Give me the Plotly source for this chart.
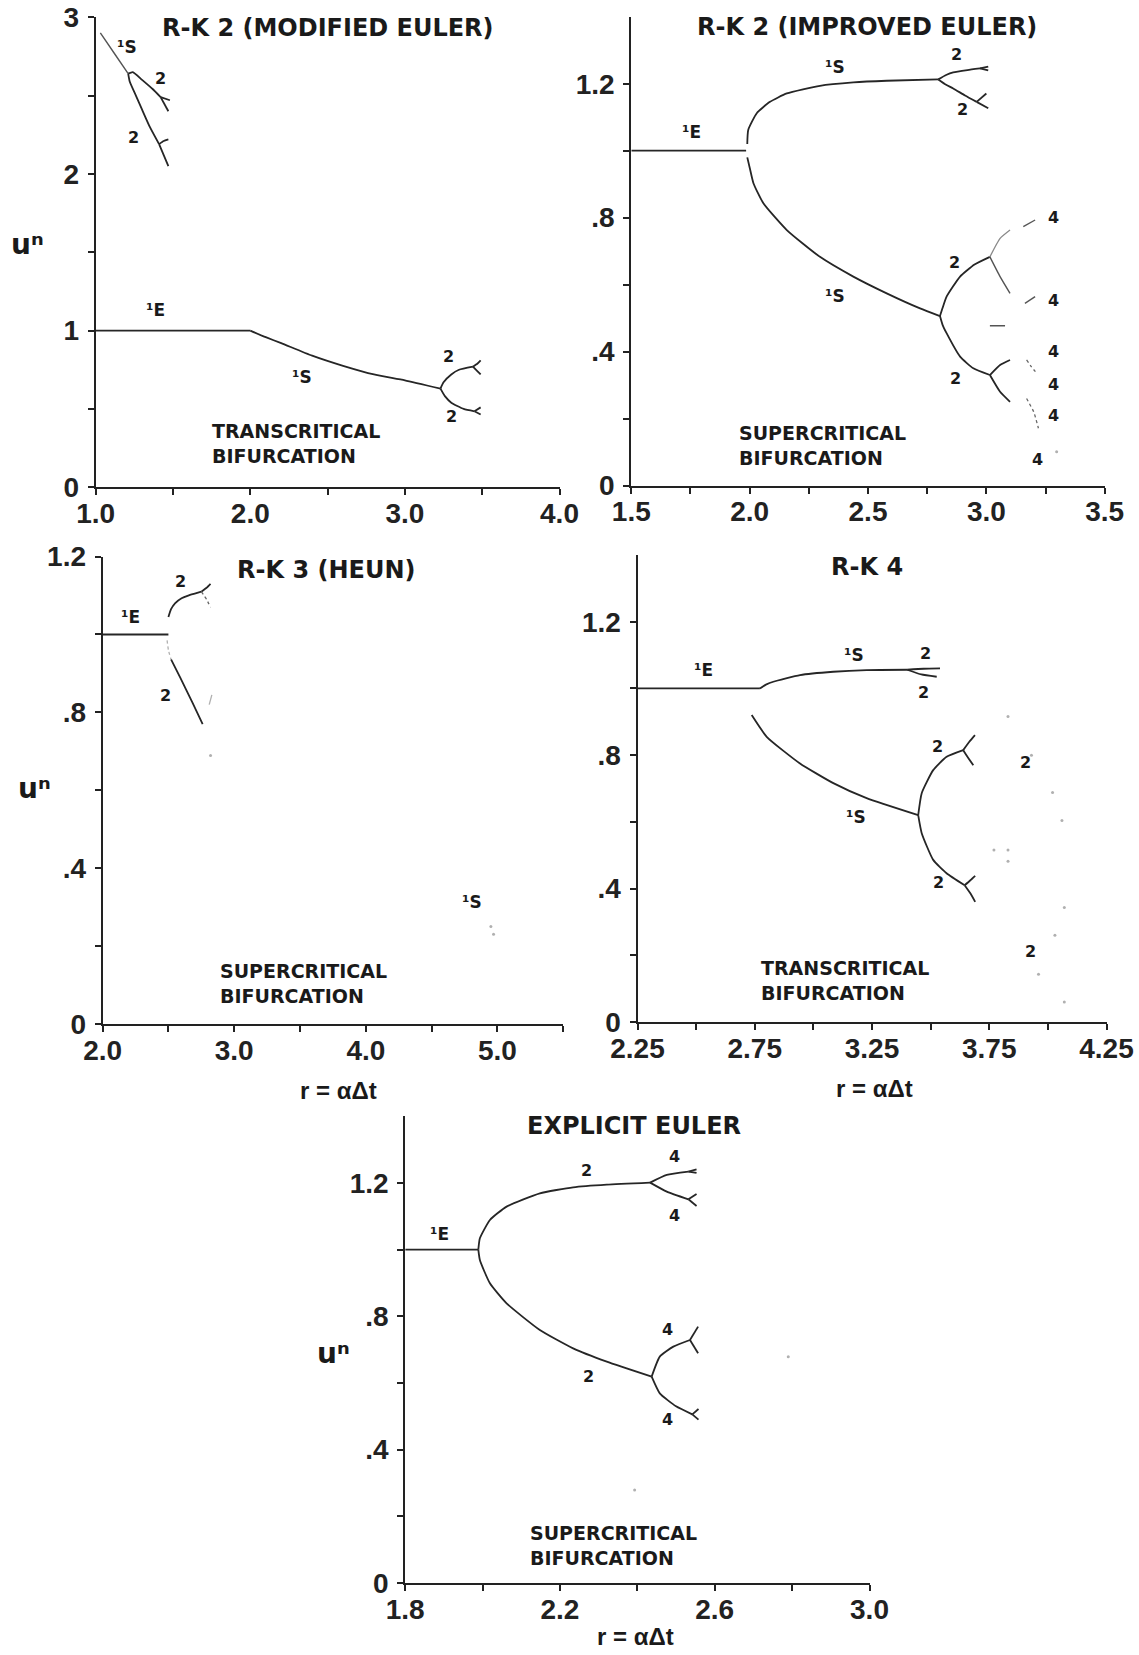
import plotly.graph_objects as go

W, H = 1139, 1655
INK = "#262626"
FAINT = "#b0b0b0"
FONT = "Liberation Sans, Arial, Helvetica, sans-serif"
WFONT = "DejaVu Sans, Verdana, sans-serif"

# ---------------- Panel 1: R-K 2 (MODIFIED EULER) ----------------
p1_e_x = [1.0, 2.0]
p1_e_y = [1.0, 1.0]
p1_s_x = [2.0, 2.1, 2.2, 2.4, 2.6, 2.8, 3.0, 3.23]
p1_s_y = [1.0, 0.958, 0.92, 0.84, 0.775, 0.72, 0.683, 0.63]
p1_2u_x = [3.23, 3.25, 3.3, 3.35, 3.44]
p1_2u_y = [0.63, 0.67, 0.72, 0.75, 0.77]
p1_4ua_x = [3.44, 3.47, 3.49]
p1_4ua_y = [0.77, 0.79, 0.81]
p1_4ub_x = [3.44, 3.47, 3.49]
p1_4ub_y = [0.77, 0.74, 0.72]
p1_2l_x = [3.23, 3.26, 3.3, 3.38, 3.45]
p1_2l_y = [0.63, 0.58, 0.54, 0.50, 0.485]
p1_4la_x = [3.45, 3.49]
p1_4la_y = [0.485, 0.51]
p1_4lb_x = [3.45, 3.49]
p1_4lb_y = [0.485, 0.465]
p1_s2_x = [1.03, 1.12, 1.21]
p1_s2_y = [2.90, 2.77, 2.64]
p1_b2u_x = [1.21, 1.24, 1.3, 1.37, 1.42]
p1_b2u_y = [2.64, 2.65, 2.60, 2.54, 2.49]
p1_b4ua_x = [1.42, 1.48]
p1_b4ua_y = [2.49, 2.47]
p1_b4ub_x = [1.42, 1.47]
p1_b4ub_y = [2.49, 2.40]
p1_b2l_x = [1.21, 1.22, 1.26, 1.30, 1.35, 1.41]
p1_b2l_y = [2.64, 2.59, 2.50, 2.41, 2.30, 2.19]
p1_b4la_x = [1.41, 1.44, 1.47]
p1_b4la_y = [2.19, 2.21, 2.22]
p1_b4lb_x = [1.41, 1.44, 1.47]
p1_b4lb_y = [2.19, 2.12, 2.05]

# ---------------- Panel 2: R-K 2 (IMPROVED EULER) ----------------
p2_e_x = [1.5, 1.985]
p2_e_y = [1.0, 1.0]
p2_su_x = [1.99, 1.994, 2.03, 2.086, 2.157, 2.297, 2.438, 2.579, 2.797]
p2_su_y = [1.02, 1.062, 1.112, 1.146, 1.171, 1.194, 1.204, 1.209, 1.213]
p2_2uu_x = [2.797, 2.83, 2.86, 2.92, 2.973]
p2_2uu_y = [1.213, 1.226, 1.234, 1.241, 1.246]
p2_4uua_x = [2.973, 3.008]
p2_4uua_y = [1.246, 1.251]
p2_4uub_x = [2.973, 3.008]
p2_4uub_y = [1.246, 1.24]
p2_2ul_x = [2.797, 2.83, 2.86, 2.91, 2.959]
p2_2ul_y = [1.213, 1.197, 1.186, 1.165, 1.146]
p2_4ula_x = [2.959, 3.0]
p2_4ula_y = [1.146, 1.171]
p2_4ulb_x = [2.959, 3.008]
p2_4ulb_y = [1.146, 1.127]
p2_sl_x = [1.99, 2.0, 2.016, 2.058, 2.157, 2.297, 2.438, 2.579, 2.72, 2.804]
p2_sl_y = [0.98, 0.95, 0.903, 0.843, 0.763, 0.683, 0.624, 0.574, 0.529, 0.506]
p2_2lu_x = [2.804, 2.815, 2.832, 2.889, 2.95, 3.015]
p2_2lu_y = [0.506, 0.53, 0.564, 0.624, 0.66, 0.683]
p2_2ll_x = [2.804, 2.815, 2.832, 2.889, 2.945, 3.015]
p2_2ll_y = [0.506, 0.48, 0.455, 0.385, 0.35, 0.33]
p2_4a_x = [3.015, 3.058, 3.1]
p2_4a_y = [0.683, 0.738, 0.763]
p2_4b_x = [3.015, 3.058, 3.1]
p2_4b_y = [0.683, 0.624, 0.574]
p2_4c_x = [3.015, 3.058, 3.1]
p2_4c_y = [0.33, 0.36, 0.375]
p2_4d_x = [3.015, 3.058, 3.1]
p2_4d_y = [0.33, 0.28, 0.25]
p2_f1_x = [3.156, 3.206]
p2_f1_y = [0.773, 0.793]
p2_f2_x = [3.163, 3.206]
p2_f2_y = [0.544, 0.564]
p2_f3_x = [3.015, 3.079]
p2_f3_y = [0.477, 0.477]
p2_f4_x = [3.17, 3.19, 3.213]
p2_f4_y = [0.375, 0.355, 0.335]
p2_f5_x = [3.17, 3.2, 3.22]
p2_f5_y = [0.26, 0.22, 0.171]
p2_dot_x = [3.297]
p2_dot_y = [0.101]

# ---------------- Panel 3: R-K 3 (HEUN) ----------------
p3_e_x = [2.0, 2.5]
p3_e_y = [1.0, 1.0]
p3_2u_x = [2.5, 2.52, 2.55, 2.6, 2.65, 2.7, 2.75]
p3_2u_y = [1.045, 1.065, 1.08, 1.093, 1.1, 1.105, 1.11]
p3_4a_x = [2.75, 2.79, 2.82]
p3_4a_y = [1.11, 1.12, 1.13]
p3_4b_x = [2.75, 2.79, 2.82]
p3_4b_y = [1.11, 1.09, 1.07]
p3_2lf_x = [2.49, 2.5, 2.52]
p3_2lf_y = [0.985, 0.96, 0.936]
p3_2l_x = [2.52, 2.59, 2.68, 2.76]
p3_2l_y = [0.936, 0.889, 0.827, 0.77]
p3_f1_x = [2.81, 2.83]
p3_f1_y = [0.82, 0.845]
p3_dot_x = [2.82, 4.95, 4.97]
p3_dot_y = [0.689, 0.25, 0.23]

# ---------------- Panel 4: R-K 4 ----------------
p4_e_x = [2.25, 2.772]
p4_e_y = [1.0, 1.0]
p4_su_x = [2.772, 2.8, 2.829, 2.943, 3.085, 3.227, 3.4]
p4_su_y = [1.0, 1.012, 1.02, 1.04, 1.05, 1.055, 1.056]
p4_2ua_x = [3.4, 3.47, 3.54]
p4_2ua_y = [1.056, 1.059, 1.06]
p4_2ub_x = [3.4, 3.46, 3.526]
p4_2ub_y = [1.056, 1.042, 1.035]
p4_sl_x = [2.737, 2.801, 2.943, 3.085, 3.227, 3.447]
p4_sl_y = [0.92, 0.855, 0.775, 0.716, 0.671, 0.62]
p4_2lu_x = [3.447, 3.462, 3.511, 3.568, 3.639]
p4_2lu_y = [0.62, 0.686, 0.755, 0.795, 0.815]
p4_4a_x = [3.639, 3.665, 3.689]
p4_4a_y = [0.815, 0.84, 0.86]
p4_4b_x = [3.639, 3.662, 3.682]
p4_4b_y = [0.815, 0.79, 0.77]
p4_2ll_x = [3.447, 3.462, 3.511, 3.568, 3.645]
p4_2ll_y = [0.62, 0.566, 0.486, 0.446, 0.41]
p4_4c_x = [3.645, 3.67, 3.69]
p4_4c_y = [0.41, 0.425, 0.438]
p4_4d_x = [3.645, 3.67, 3.69]
p4_4d_y = [0.41, 0.385, 0.36]
p4_dot_x = [3.93, 3.96, 3.83, 4.02, 4.06, 3.77, 3.83, 3.83, 4.07, 4.03, 4.07]
p4_dot_y = [0.80, 0.143, 0.916, 0.688, 0.604, 0.516, 0.516, 0.482, 0.343, 0.26, 0.06]

# ---------------- Panel 5: EXPLICIT EULER ----------------
p5_e_x = [1.8, 1.989]
p5_e_y = [1.0, 1.0]
p5_2u_x = [1.989, 1.993, 2.019, 2.062, 2.148, 2.234, 2.321, 2.433]
p5_2u_y = [1.0, 1.034, 1.089, 1.129, 1.169, 1.187, 1.195, 1.201]
p5_4uu_x = [2.433, 2.476, 2.532]
p5_4uu_y = [1.201, 1.224, 1.234]
p5_8a_x = [2.532, 2.553]
p5_8a_y = [1.234, 1.241]
p5_8b_x = [2.532, 2.553]
p5_8b_y = [1.234, 1.23]
p5_4ul_x = [2.433, 2.476, 2.532]
p5_4ul_y = [1.201, 1.174, 1.151]
p5_8c_x = [2.532, 2.553]
p5_8c_y = [1.151, 1.167]
p5_8d_x = [2.532, 2.553]
p5_8d_y = [1.151, 1.131]
p5_2l_x = [1.989, 1.993, 2.019, 2.062, 2.148, 2.234, 2.321, 2.437]
p5_2l_y = [1.0, 0.969, 0.899, 0.839, 0.759, 0.704, 0.664, 0.619]
p5_4lu_x = [2.437, 2.458, 2.493, 2.536]
p5_4lu_y = [0.619, 0.679, 0.709, 0.729]
p5_8e_x = [2.536, 2.557]
p5_8e_y = [0.729, 0.769]
p5_8f_x = [2.536, 2.557]
p5_8f_y = [0.729, 0.689]
p5_4ll_x = [2.437, 2.458, 2.5, 2.542]
p5_4ll_y = [0.619, 0.569, 0.53, 0.506]
p5_8g_x = [2.542, 2.558]
p5_8g_y = [0.506, 0.522]
p5_8h_x = [2.542, 2.558]
p5_8h_y = [0.506, 0.49]
p5_dot_x = [2.79, 2.393]
p5_dot_y = [0.679, 0.279]

# ---------------- tick definitions ----------------
p1_xt = [1.0, 2.0, 3.0, 4.0]
p1_xl = ["1.0", "2.0", "3.0", "4.0"]
p1_xm = [1.0, 1.5, 2.0, 2.5, 3.0, 3.5, 4.0]
p1_yt = [0, 1, 2, 3]
p1_yl = ["0", "1", "2", "3"]
p1_ym = [0, 0.5, 1, 1.5, 2, 2.5, 3]
p2_xt = [1.5, 2.0, 2.5, 3.0, 3.5]
p2_xl = ["1.5", "2.0", "2.5", "3.0", "3.5"]
p2_xm = [1.5, 1.75, 2.0, 2.25, 2.5, 2.75, 3.0, 3.25, 3.5]
u_yt = [0, 0.4, 0.8, 1.2]
u_yl = ["0", ".4", ".8", "1.2"]
u_ym = [0, 0.2, 0.4, 0.6, 0.8, 1.0, 1.2]
p3_xt = [2.0, 3.0, 4.0, 5.0]
p3_xl = ["2.0", "3.0", "4.0", "5.0"]
p3_xm = [2.0, 2.5, 3.0, 3.5, 4.0, 4.5, 5.0, 5.5]
p4_xt = [2.25, 2.75, 3.25, 3.75, 4.25]
p4_xl = ["2.25", "2.75", "3.25", "3.75", "4.25"]
p4_xm = [2.25, 2.5, 2.75, 3.0, 3.25, 3.5, 3.75, 4.0, 4.25]
p5_xt = [1.8, 2.2, 2.6, 3.0]
p5_xl = ["1.8", "2.2", "2.6", "3.0"]
p5_xm = [1.8, 2.0, 2.2, 2.4, 2.6, 2.8, 3.0]

fig = go.Figure()


def line(xs, ys, p, color=INK, width=1.8, dash="solid"):
    fig.add_trace(go.Scatter(
        x=xs, y=ys, mode="lines", xaxis="x%d" % p, yaxis="y%d" % p,
        line=dict(color=color, width=width, dash=dash, shape="spline", smoothing=0.5),
        hoverinfo="skip", showlegend=False))


def dots(xs, ys, p):
    fig.add_trace(go.Scatter(
        x=xs, y=ys, mode="markers", xaxis="x%d" % p, yaxis="y%d" % p,
        marker=dict(color=FAINT, size=3), hoverinfo="skip", showlegend=False))


# panel 1
for xs, ys in [(p1_e_x, p1_e_y), (p1_s_x, p1_s_y), (p1_2u_x, p1_2u_y), (p1_4ua_x, p1_4ua_y),
               (p1_4ub_x, p1_4ub_y), (p1_2l_x, p1_2l_y), (p1_4la_x, p1_4la_y), (p1_4lb_x, p1_4lb_y),
               (p1_b2u_x, p1_b2u_y), (p1_b4ua_x, p1_b4ua_y), (p1_b4ub_x, p1_b4ub_y),
               (p1_b2l_x, p1_b2l_y), (p1_b4la_x, p1_b4la_y), (p1_b4lb_x, p1_b4lb_y)]:
    line(xs, ys, 1)
line(p1_s2_x, p1_s2_y, 1, color="#555555", width=1.4)

# panel 2
for xs, ys in [(p2_e_x, p2_e_y), (p2_su_x, p2_su_y), (p2_2uu_x, p2_2uu_y), (p2_4uua_x, p2_4uua_y),
               (p2_4uub_x, p2_4uub_y), (p2_2ul_x, p2_2ul_y), (p2_4ula_x, p2_4ula_y), (p2_4ulb_x, p2_4ulb_y),
               (p2_sl_x, p2_sl_y), (p2_2lu_x, p2_2lu_y), (p2_2ll_x, p2_2ll_y),
               (p2_4c_x, p2_4c_y), (p2_4d_x, p2_4d_y)]:
    line(xs, ys, 2)
line(p2_4a_x, p2_4a_y, 2, color="#8a8a8a", width=1.3)
line(p2_4b_x, p2_4b_y, 2, color="#555555", width=1.4)
for xs, ys in [(p2_f1_x, p2_f1_y), (p2_f2_x, p2_f2_y), (p2_f3_x, p2_f3_y)]:
    line(xs, ys, 2, color="#555555", width=1.4)
line(p2_f4_x, p2_f4_y, 2, color="#666666", width=1.3, dash="dot")
line(p2_f5_x, p2_f5_y, 2, color="#666666", width=1.3, dash="dot")
dots(p2_dot_x, p2_dot_y, 2)

# panel 3
for xs, ys in [(p3_e_x, p3_e_y), (p3_2u_x, p3_2u_y), (p3_4a_x, p3_4a_y), (p3_2l_x, p3_2l_y)]:
    line(xs, ys, 3)
line(p3_4b_x, p3_4b_y, 3, color="#666666", width=1.3, dash="dot")
line(p3_2lf_x, p3_2lf_y, 3, color=FAINT, width=1.3, dash="dot")
line(p3_f1_x, p3_f1_y, 3, color=FAINT, width=1.3)
dots(p3_dot_x, p3_dot_y, 3)

# panel 4
for xs, ys in [(p4_e_x, p4_e_y), (p4_su_x, p4_su_y), (p4_2ua_x, p4_2ua_y), (p4_2ub_x, p4_2ub_y),
               (p4_sl_x, p4_sl_y), (p4_2lu_x, p4_2lu_y), (p4_4a_x, p4_4a_y), (p4_4b_x, p4_4b_y),
               (p4_2ll_x, p4_2ll_y), (p4_4c_x, p4_4c_y), (p4_4d_x, p4_4d_y)]:
    line(xs, ys, 4)
dots(p4_dot_x, p4_dot_y, 4)

# panel 5
for xs, ys in [(p5_e_x, p5_e_y), (p5_2u_x, p5_2u_y), (p5_4uu_x, p5_4uu_y), (p5_8a_x, p5_8a_y),
               (p5_8b_x, p5_8b_y), (p5_4ul_x, p5_4ul_y), (p5_8c_x, p5_8c_y), (p5_8d_x, p5_8d_y),
               (p5_2l_x, p5_2l_y), (p5_4lu_x, p5_4lu_y), (p5_8e_x, p5_8e_y), (p5_8f_x, p5_8f_y),
               (p5_4ll_x, p5_4ll_y), (p5_8g_x, p5_8g_y), (p5_8h_x, p5_8h_y)]:
    line(xs, ys, 5)
dots(p5_dot_x, p5_dot_y, 5)

# ---------------- axes ----------------
panels = [
    # (px left, px right, px bottom, px top, xrange, yrange, x ticks, x labels, x minor, y ticks, y labels, y minor)
    (95.7, 559.5, 487.3, 17.2, [1.0, 4.0], [0, 3], p1_xt, p1_xl, p1_xm, p1_yt, p1_yl, p1_ym),
    (631.3, 1104.7, 485.5, 16.8, [1.5, 3.5], [0, 1.4], p2_xt, p2_xl, p2_xm, u_yt, u_yl, u_ym),
    (102.6, 563.3, 1023.9, 556.6, [2.0, 5.5], [0, 1.2], p3_xt, p3_xl, p3_xm, u_yt, u_yl, u_ym),
    (637.5, 1106.5, 1022.0, 555.0, [2.25, 4.25], [0, 1.4], p4_xt, p4_xl, p4_xm, u_yt, u_yl, u_ym),
    (405.2, 869.5, 1583.0, 1116.3, [1.8, 3.0], [0, 1.4], p5_xt, p5_xl, p5_xm, u_yt, u_yl, u_ym),
]
tickfont = dict(family=FONT, size=28, color="#222222", weight="bold")
layout = {}
for i, (xl, xr, yb, yt, xrg, yrg, xtv, xtt, xmv, ytv, ytt, ymv) in enumerate(panels, start=1):
    common = dict(showline=True, linewidth=2, linecolor="#222222", ticks="outside",
                  ticklen=6, tickwidth=1.5, tickcolor="#222222", showgrid=False,
                  zeroline=False, tickfont=tickfont, fixedrange=True, automargin=False)
    minor = dict(tickmode="array", ticks="outside", ticklen=6, tickwidth=1.5,
                 tickcolor="#222222", showgrid=False)
    layout["xaxis%d" % i] = dict(common, domain=[xl / W, xr / W], range=xrg,
                                 anchor="y%d" % i, tickmode="array", tickvals=xtv, ticktext=xtt,
                                 ticklabelstandoff=-6, minor=dict(minor, tickvals=xmv))
    layout["yaxis%d" % i] = dict(common, domain=[1 - yb / H, 1 - yt / H], range=yrg,
                                 anchor="x%d" % i, tickmode="array", tickvals=ytv, ticktext=ytt,
                                 ticklabelstandoff=3, minor=dict(minor, tickvals=ymv))

# ---------------- annotations ----------------
ann = []


def lab(text, x, y, p, size=17):
    ann.append(dict(text=text, x=x, y=y, xref="x%d" % p, yref="y%d" % p, showarrow=False,
                    xanchor="center", yanchor="middle",
                    font=dict(family=WFONT, size=size, color="#1a1a1a", weight="bold")))


S1 = "¹S"
E1 = "¹E"
# panel 1
lab(S1, 1.20, 2.81, 1); lab("2", 1.42, 2.61, 1, 16); lab("2", 1.245, 2.235, 1, 16)
lab(E1, 1.386, 1.134, 1); lab(S1, 2.336, 0.705, 1)
lab("2", 3.284, 0.837, 1, 16); lab("2", 3.30, 0.455, 1, 16)
# panel 2
lab(S1, 2.361, 1.25, 2); lab("2", 2.875, 1.286, 2, 16); lab("2", 2.899, 1.123, 2, 16)
lab(E1, 1.754, 1.055, 2); lab(S1, 2.361, 0.566, 2)
lab("2", 2.864, 0.667, 2, 16); lab("2", 2.868, 0.319, 2, 16)
for yy in [0.80, 0.552, 0.399, 0.301, 0.208]:
    lab("4", 3.284, yy, 2, 16)
lab("4", 3.218, 0.077, 2, 16)
# panel 3
lab("2", 2.59, 1.135, 3, 16); lab(E1, 2.21, 1.045, 3); lab("2", 2.48, 0.844, 3, 16)
lab(S1, 4.81, 0.314, 3)
# panel 4
lab(S1, 3.175, 1.099, 4); lab("2", 3.479, 1.104, 4, 16); lab("2", 3.471, 0.988, 4, 16)
lab(E1, 2.53, 1.054, 4); lab("2", 3.53, 0.827, 4, 16); lab(S1, 3.18, 0.616, 4)
lab("2", 3.535, 0.419, 4, 16); lab("2", 3.905, 0.777, 4, 16); lab("2", 3.925, 0.21, 4, 16)
# panel 5
lab("2", 2.269, 1.236, 5, 16); lab("4", 2.495, 1.279, 5, 16); lab("4", 2.495, 1.103, 5, 16)
lab(E1, 1.888, 1.047, 5); lab("4", 2.479, 0.76, 5, 16); lab("2", 2.274, 0.62, 5, 16)
lab("4", 2.479, 0.49, 5, 16)

# bifurcation type notes
notes = [("TRANSCRITICAL<br>BIFURCATION", 1.742, 0.277, 1),
         ("SUPERCRITICAL<br>BIFURCATION", 1.945, 0.12, 2),
         ("SUPERCRITICAL<br>BIFURCATION", 2.88, 0.105, 3),
         ("TRANSCRITICAL<br>BIFURCATION", 2.77, 0.124, 4),
         ("SUPERCRITICAL<br>BIFURCATION", 2.118, 0.113, 5)]
for t, x, y, p in notes:
    ann.append(dict(text=t, x=x, y=y, xref="x%d" % p, yref="y%d" % p, showarrow=False,
                    xanchor="left", yanchor="middle", align="left",
                    font=dict(family=WFONT, size=19, color="#1a1a1a", weight="bold")))

# titles (paper coords from pixel centres)
titles = [("R-K 2 (MODIFIED EULER)", 328, 27.5), ("R-K 2 (IMPROVED EULER)", 867, 27),
          ("R-K 3 (HEUN)", 326, 570), ("R-K 4", 867, 567), ("EXPLICIT EULER", 634, 1126)]
for t, px, py in titles:
    ann.append(dict(text=t, x=px / W, y=1 - py / H, xref="paper", yref="paper", showarrow=False,
                    xanchor="center", yanchor="middle",
                    font=dict(family=WFONT, size=24, color="#1a1a1a", weight="bold")))

# axis titles
for px, py in [(27.5, 244), (34, 789), (333, 1353)]:
    ann.append(dict(text="uⁿ", x=px / W, y=1 - py / H, xref="paper", yref="paper",
                    showarrow=False, xanchor="center", yanchor="middle",
                    font=dict(family=WFONT, size=28, color="#1a1a1a", weight="bold")))
for px, py in [(338.7, 1090.5), (874, 1088.6), (635, 1636)]:
    ann.append(dict(text="r = αΔt", x=px / W, y=1 - py / H, xref="paper", yref="paper",
                    showarrow=False, xanchor="center", yanchor="middle",
                    font=dict(family=FONT, size=24, color="#1a1a1a", weight="bold")))

fig.update_layout(template="none", width=W, height=H, margin=dict(l=0, r=0, t=0, b=0),
                  paper_bgcolor="white", plot_bgcolor="white", showlegend=False,
                  annotations=ann, **layout)

fig.write_html("out.html")
